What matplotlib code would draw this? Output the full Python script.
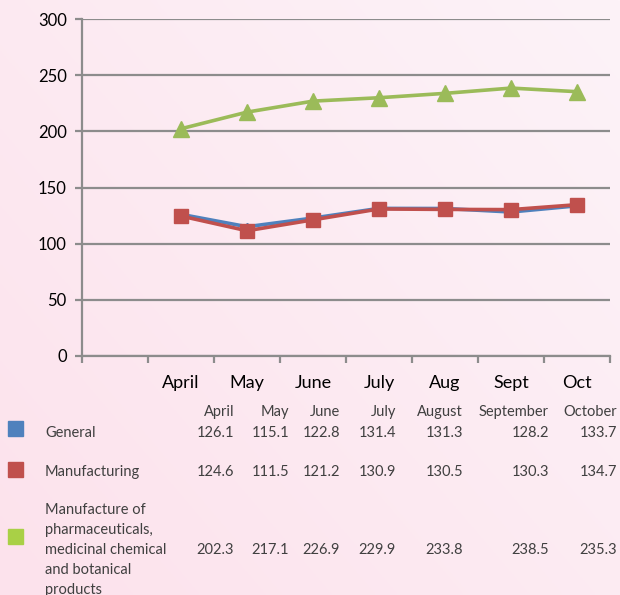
import matplotlib

matplotlib.use("Agg")

import matplotlib.pyplot as plt
import numpy as np
from matplotlib.patches import Rectangle

plt.rcParams["font.family"] = ["Lato", "DejaVu Sans"]

# data
axis_labels = ["", "April", "May", "June", "July", "Aug", "Sept", "Oct"]
table_months = ["April", "May", "June", "July", "August", "September", "October"]
series_names = [
    "General",
    "Manufacturing",
    "Manufacture of\npharmaceuticals,\nmedicinal chemical\nand botanical\nproducts",
]
general = [126.1, 115.1, 122.8, 131.4, 131.3, 128.2, 133.7]
manufacturing = [124.6, 111.5, 121.2, 130.9, 130.5, 130.3, 134.7]
pharma = [202.3, 217.1, 226.9, 229.9, 233.8, 238.5, 235.3]

colors = ["#4f81bd", "#c0504d", "#9bbb59"]
legend_colors = ["#4f81bd", "#c0504d", "#a9d046"]

W, H = 620, 595
fig = plt.figure(figsize=(W / 100, H / 100), dpi=100)

# pink background gradient
bg = fig.add_axes([0, 0, 1, 1], zorder=-10)
gx, gy = np.meshgrid(np.linspace(0, 1, 200), np.linspace(0, 1, 200))
t = np.clip(0.55 * gx + 0.45 * gy, 0, 1)
c0 = np.array([252, 226, 236]) / 255
c1 = np.array([253, 243, 248]) / 255
img = c0[None, None, :] * (1 - t[..., None]) + c1[None, None, :] * t[..., None]
bg.imshow(img, origin="lower", extent=[0, 1, 0, 1], aspect="auto")
bg.axis("off")


def fx(px):
    return px / W


def fy(py):
    return 1 - py / H


ax = fig.add_axes([fx(82), fy(356), fx(610) - fx(82), fy(19) - fy(356)])
ax.patch.set_alpha(0)

x = np.arange(1, len(general) + 1)
ax.plot(x, general, color=colors[0], lw=2.6, marker="D", ms=4, zorder=3)
ax.plot(x, manufacturing, color=colors[1], lw=2.6, marker="s", ms=10, zorder=4)
ax.plot(x, pharma, color=colors[2], lw=2.6, marker="^", ms=11, zorder=4)

ax.set_xlim(-0.5, len(axis_labels) - 0.5)
ax.set_ylim(0, 300)
ax.set_yticks(np.arange(0, 301, 50))
ax.yaxis.grid(True, color="#8c8c8c", lw=1.6)
ax.set_axisbelow(True)

ax.set_xticks(np.arange(len(axis_labels)))
ax.set_xticklabels(axis_labels, fontsize=13)
ax.set_xticks(np.arange(-0.5, len(axis_labels)), minor=True)
ax.tick_params(axis="x", which="major", length=0, pad=14)
ax.tick_params(axis="x", which="minor", length=5, width=1.6, color="#8c8c8c")
ax.tick_params(axis="y", length=5, width=1.6, color="#8c8c8c", labelsize=12, pad=6)

for s in ["top", "right"]:
    ax.spines[s].set_visible(False)
for s in ["left", "bottom"]:
    ax.spines[s].set_color("#8c8c8c")
    ax.spines[s].set_linewidth(1.6)

# data table
col_x = [234, 289, 340, 396, 463, 549, 617]
txt = "#404040"
fs = 10.5
for cx, m in zip(col_x, table_months):
    fig.text(fx(cx), fy(412), m, ha="right", va="center", fontsize=fs, color=txt)

row_y = [433, 472, 550]
sq_y = [428, 469, 536]
rows = [general, manufacturing, pharma]
for ry, sy, name, vals, col in zip(row_y, sq_y, series_names, rows, legend_colors):
    fig.patches.append(
        Rectangle((fx(8), fy(sy + 7.5)), fx(15), fy(0) - fy(15),
                  transform=fig.transFigure, color=col)
    )
    fig.text(fx(45), fy(ry), name, ha="left", va="center", fontsize=fs,
             color=txt, linespacing=1.55)
    for cx, v in zip(col_x, vals):
        fig.text(fx(cx), fy(ry), f"{v:.1f}", ha="right", va="center",
                 fontsize=fs, color=txt)

fig.savefig("out.png", dpi=100)
